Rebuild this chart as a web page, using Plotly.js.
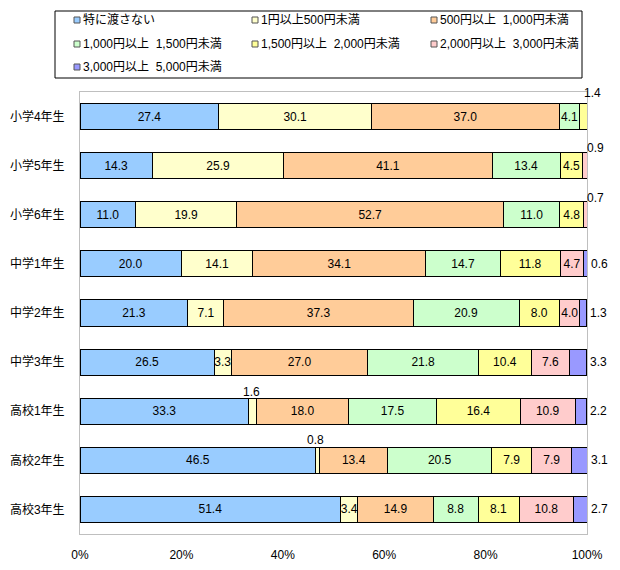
<!DOCTYPE html>
<html>
<head>
<meta charset="utf-8">
<script src="https://cdn.plot.ly/plotly-3.0.1.min.js"></script>
<style>
  html, body { margin: 0; padding: 0; background: #ffffff; }
  #chart { width: 620px; height: 570px; }
</style>
</head>
<body>
<div id="chart"></div>
<script>
// School grades (top to bottom)
const grades = ['小学4年生', '小学5年生', '小学6年生', '中学1年生', '中学2年生', '中学3年生', '高校1年生', '高校2年生', '高校3年生'];

// Allowance brackets
const brackets = ['特に渡さない', '1円以上500円未満', '500円以上  1,000円未満', '1,000円以上  1,500円未満',
                  '1,500円以上  2,000円未満', '2,000円以上  3,000円未満', '3,000円以上  5,000円未満'];

// Share of each bracket (%) per grade, one array per bracket
const none      = [27.4, 14.3, 11.0, 20.0, 21.3, 26.5, 33.3, 46.5, 51.4];
const y1to500   = [30.1, 25.9, 19.9, 14.1,  7.1,  3.3,  1.6,  0.8,  3.4];
const y500to1k  = [37.0, 41.1, 52.7, 34.1, 37.3, 27.0, 18.0, 13.4, 14.9];
const y1kto15   = [ 4.1, 13.4, 11.0, 14.7, 20.9, 21.8, 17.5, 20.5,  8.8];
const y15kto2k  = [ 1.4,  4.5,  4.8, 11.8,  8.0, 10.4, 16.4,  7.9,  8.1];
const y2kto3k   = [null,  0.9,  0.7,  4.7,  4.0,  7.6, 10.9,  7.9, 10.8];
const y3kto5k   = [null, null, null,  0.6,  1.3,  3.3,  2.2,  3.1,  2.7];

const series = [none, y1to500, y500to1k, y1kto15, y15kto2k, y2kto3k, y3kto5k];
const colors = ['#99CCFF', '#FFFFCC', '#FFCC99', '#CCFFCC', '#FFFF99', '#FFCCCC', '#9999FF'];

// x-axis ticks
const tickVals = [0, 20, 40, 60, 80, 100];
const tickText = ['0%', '20%', '40%', '60%', '80%', '100%'];

// Labels that sit outside their segment: [grade index, bracket index, mode, dx, dy]
const outsideLabels = [
  [0, 4, 'corner', -5, 24],
  [1, 5, 'corner', -2, 18],
  [2, 5, 'corner', -2, 17],
  [6, 1, 'above', -1, 19],
  [7, 1, 'above', -2, 20],
  [3, 6, 'right', 2, 0],
  [4, 6, 'right', 2, 0],
  [5, 6, 'right', 2, 0],
  [6, 6, 'right', 2, 0],
  [7, 6, 'right', 2, 0],
  [8, 6, 'right', 2, 0]
];

const FONT = 'Liberation Sans, Noto Sans CJK JP, sans-serif';
const X_MAX = 100;
const isOutside = (g, s) => outsideLabels.some(o => o[0] === g && o[1] === s);

const traces = series.map((vals, s) => ({
  type: 'bar',
  orientation: 'h',
  name: brackets[s],
  y: grades,
  x: vals,
  marker: { color: colors[s], line: { color: '#000000', width: 1 } },
  text: vals.map((v, g) => (v == null || isOutside(g, s)) ? '' : v.toFixed(1)),
  textposition: 'inside',
  insidetextanchor: 'middle',
  constraintext: 'none',
  textangle: 0,
  textfont: { family: FONT, size: 12, color: '#000000' },
  hoverinfo: 'x+name',
  showlegend: false
}));

// Outside value labels, positioned from the stacked data (kept inside the axis range)
const cumStart = (g, s) => series.slice(0, s).reduce((a, arr) => a + (arr[g] || 0), 0);
const annotations = outsideLabels.map(([g, s, mode, dx, dy]) => {
  const v = series[s][g];
  const start = cumStart(g, s);
  const a = {
    xref: 'x', yref: 'y', y: grades[g],
    text: v.toFixed(1), showarrow: false,
    font: { family: FONT, size: 12, color: '#000000' },
    xshift: dx, yshift: dy
  };
  if (mode === 'above') { a.x = start + v / 2; a.xanchor = 'center'; }
  else { a.x = Math.min(start + v, X_MAX); a.xanchor = 'left'; }
  return a;
});

// Plot-area geometry (px) used for the framed legend
const W = 620, H = 570, ML = 80, MR = 33, MT = 92, MB = 36;
const PW = W - ML - MR, PH = H - MT - MB;
const px = x => (x - ML) / PW;
const py = y => 1 - (y - MT) / PH;

const shapes = [{
  type: 'rect', xref: 'paper', yref: 'paper',
  x0: px(55), x1: px(582), y0: py(78), y1: py(11),
  line: { color: '#000000', width: 1 }, fillcolor: '#ffffff'
}];
const legendCols = [74, 252, 431];
const legendRows = [20, 44, 67];
brackets.forEach((name, i) => {
  const cx = legendCols[i % 3], cy = legendRows[Math.floor(i / 3)];
  shapes.push({
    type: 'rect', xref: 'paper', yref: 'paper',
    x0: px(cx), x1: px(cx + 6), y0: py(cy + 3), y1: py(cy - 3),
    line: { color: '#555555', width: 1 }, fillcolor: colors[i]
  });
  annotations.push({
    xref: 'paper', yref: 'paper', x: px(cx + 7), y: py(cy),
    xanchor: 'left', yanchor: 'middle', showarrow: false,
    text: name.replace(/  /g, '&nbsp;&nbsp;'),
    font: { family: FONT, size: 12, color: '#000000' }
  });
});

const layout = {
  width: W, height: H,
  margin: { l: ML, r: MR, t: MT, b: MB, pad: 0 },
  paper_bgcolor: '#ffffff', plot_bgcolor: '#ffffff',
  barmode: 'stack',
  bargap: 0.47,
  showlegend: false,
  font: { family: FONT, size: 12, color: '#000000' },
  xaxis: {
    range: [0, X_MAX], tickvals: tickVals, ticktext: tickText,
    showgrid: false, zeroline: false, ticks: '',
    showline: true, mirror: true, linecolor: '#BFBFBF', linewidth: 1,
    ticklabelstandoff: 10,
    tickfont: { family: FONT, size: 12, color: '#000000' }
  },
  yaxis: {
    type: 'category', categoryorder: 'array', categoryarray: grades,
    autorange: 'reversed',
    showgrid: false, zeroline: false, ticks: '',
    showline: true, mirror: true, linecolor: '#BFBFBF', linewidth: 1,
    ticklabelstandoff: 12,
    tickfont: { family: FONT, size: 12, color: '#000000' }
  },
  shapes: shapes,
  annotations: annotations
};

Plotly.newPlot('chart', traces, layout, { displayModeBar: false, staticPlot: true });
</script>
</body>
</html>
